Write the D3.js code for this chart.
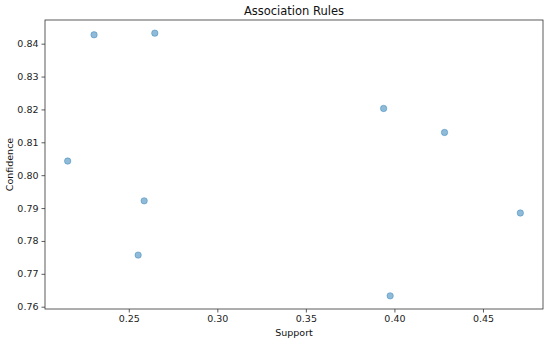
<!DOCTYPE html>
<html>
<head>
<meta charset="utf-8">
<script src="https://cdn.jsdelivr.net/npm/d3@7"></script>
<style>
  body { margin: 0; background: #fff; }
  svg { display: block; font-family: "DejaVu Sans", sans-serif; }
</style>
</head>
<body>
<svg id="chart" width="550" height="342"></svg>
<script>
// rules
const support = [0.2304, 0.2647, 0.2155, 0.3939, 0.4283, 0.2587, 0.2553, 0.4711, 0.3976];
const confidence = [0.8427, 0.8432, 0.8043, 0.8203, 0.8130, 0.7922, 0.7757, 0.7885, 0.7633];
const xTicks = [0.25, 0.30, 0.35, 0.40, 0.45];
const yTicks = [0.76, 0.77, 0.78, 0.79, 0.80, 0.81, 0.82, 0.83, 0.84];

const svg = d3.select("#chart");
const margin = { top: 20, right: 7, bottom: 33, left: 45 };
const width = 550 - margin.left - margin.right;
const height = 342 - margin.top - margin.bottom;

const x = d3.scaleLinear().domain([0.2027, 0.4839]).range([0, width]);
const y = d3.scaleLinear().domain([0.7593, 0.8472]).range([height, 0]);

const g = svg.append("g")
  .attr("transform", `translate(${margin.left},${margin.top})`);

const xAxis = g.append("g")
  .attr("transform", `translate(0,${height})`)
  .call(d3.axisBottom(x).tickValues(xTicks).tickFormat(d3.format(".2f")).tickSize(3.5).tickPadding(3));

const yAxis = g.append("g")
  .call(d3.axisLeft(y).tickValues(yTicks).tickFormat(d3.format(".2f")).tickSize(3.5).tickPadding(3));

[xAxis, yAxis].forEach((a) => {
  a.select(".domain").remove();
  a.selectAll("line").attr("stroke", "#333").attr("stroke-width", 0.8);
  a.selectAll("text").attr("fill", "#222").style("font-size", "9.5px").style("font-family", "DejaVu Sans, sans-serif");
});

// frame
g.append("rect")
  .attr("width", width)
  .attr("height", height)
  .attr("fill", "none")
  .attr("stroke", "#333")
  .attr("stroke-width", 0.8);

g.selectAll(".dot")
  .data(support.map((s, i) => ({ s, c: confidence[i] })))
  .enter()
  .append("circle")
  .attr("class", "dot")
  .attr("cx", (d) => x(d.s))
  .attr("cy", (d) => y(d.c))
  .attr("r", 3.2)
  .attr("fill", "#1f77b4")
  .attr("fill-opacity", 0.5)
  .attr("stroke", "#1f77b4")
  .attr("stroke-opacity", 0.5)
  .attr("stroke-width", 0.8);

svg.append("text")
  .attr("x", margin.left + width / 2)
  .attr("y", 15)
  .attr("text-anchor", "middle")
  .style("font-size", "11.5px")
  .attr("fill", "#111")
  .text("Association Rules");

svg.append("text")
  .attr("x", margin.left + width / 2)
  .attr("y", 336)
  .attr("text-anchor", "middle")
  .style("font-size", "9.5px")
  .attr("fill", "#111")
  .text("Support");

svg.append("text")
  .attr("transform", `translate(13,${margin.top + height / 2}) rotate(-90)`)
  .attr("text-anchor", "middle")
  .style("font-size", "9.5px")
  .attr("fill", "#111")
  .text("Confidence");
</script>
</body>
</html>
